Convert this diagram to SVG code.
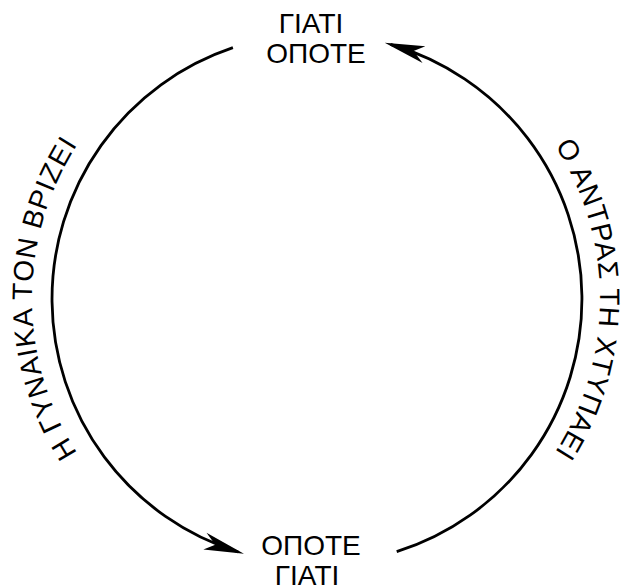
<svg xmlns="http://www.w3.org/2000/svg" width="625" height="585" viewBox="0 0 625 585">
<style>
.lbl{font-family:"Liberation Sans",Arial,sans-serif;font-size:28px;fill:#000;}
.arc{fill:none;stroke:#000;stroke-width:2.8;}
</style>
<defs>
<marker id="ah" markerUnits="userSpaceOnUse" viewBox="-44 -10 44 20" refX="-6" refY="0" markerWidth="44" markerHeight="20" orient="auto">
<path d="M0,0 L-42,-9 L-30,0 L-40,8 Z" fill="#000"/>
</marker>
<path id="leftPath" d="M317,584 A285,285 0 0 1 317,14"/>
<path id="rightPath" d="M317,16 A283,283 0 0 1 317,582"/>
</defs>
<rect width="625" height="585" fill="#fff"/>
<g id="connectors">
<path class="arc" d="M232.9,47.7 A265,265 0 0 0 238.2,552.0" marker-end="url(#ah)"/>
<path class="arc" d="M396.7,551.7 A265,265 0 0 0 390.5,44.4" marker-end="url(#ah)"/>
</g>
<g id="node-top">
<text class="lbl" x="311" y="33" text-anchor="middle">ΓΙΑΤΙ</text>
<text class="lbl" x="316" y="63" text-anchor="middle">ΟΠΟΤΕ</text>
</g>
<g id="node-bottom">
<text class="lbl" x="311" y="555" text-anchor="middle">ΟΠΟΤΕ</text>
<text class="lbl" x="307" y="585" text-anchor="middle">ΓΙΑΤΙ</text>
</g>
<g id="label-left">
<text class="lbl"><textPath href="#leftPath" startOffset="50%" text-anchor="middle" textLength="326" lengthAdjust="spacing">Η ΓΥΝΑΙΚΑ ΤΟΝ ΒΡΙΖΕΙ</textPath></text>
</g>
<g id="label-right">
<text class="lbl"><textPath href="#rightPath" startOffset="50%" text-anchor="middle" textLength="324" lengthAdjust="spacing">Ο ΑΝΤΡΑΣ ΤΗ ΧΤΥΠΑΕΙ</textPath></text>
</g>
</svg>
